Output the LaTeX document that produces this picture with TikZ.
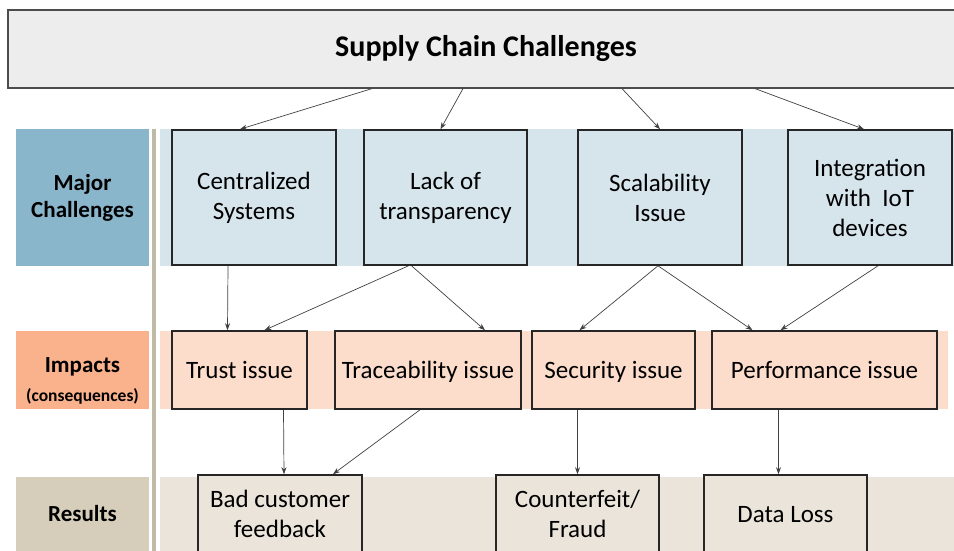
\documentclass[tikz,border=0pt]{standalone}
\usepackage{fontspec}
\setmainfont{Carlito}
\usetikzlibrary{positioning, arrows.meta}
\definecolor{titlegray}{RGB}{237,237,237}
\definecolor{majordark}{RGB}{138,182,204}
\definecolor{majorlight}{RGB}{214,228,236}
\definecolor{impactdark}{RGB}{250,178,140}
\definecolor{impactlight}{RGB}{252,221,204}
\definecolor{resultdark}{RGB}{214,205,186}
\definecolor{resultlight}{RGB}{234,228,218}
\definecolor{rulegray}{RGB}{190,186,166}

\begin{document}
\begin{tikzpicture}[x=1pt, y=-1pt,
  box/.style={draw=black!85, line width=1.6pt, inner sep=0pt, align=center,
    font=\fontsize{25}{30}\selectfont},
  onebox/.style={box, text height=20pt, text depth=3pt},
  lbl/.style={inner sep=0pt, align=center, font=\fontsize{23}{27}\selectfont\bfseries},
  arr/.style={draw=black!75, line width=0.7pt, -{Stealth[length=7pt,width=5pt]}}]
\useasboundingbox (0,0) rectangle (954,551);
\clip (0,0) rectangle (954,551);

% bands
\fill[majorlight] (160,129) rectangle (954,266);
\fill[impactlight] (160,331) rectangle (948,409);
\fill[resultlight] (160,477) rectangle (954,560);
\fill[rulegray] (152,129) rectangle (156,560);
\fill[impactdark] (16,331) rectangle (149,409);

% row labels
\node[lbl, fill=majordark, minimum width=133pt, minimum height=137pt] (major) at (82.5,197.5) {Major\\Challenges};
\node[lbl] (impacts) at (82.5,381)
  {Impacts\\[2pt]{\fontsize{17.5}{20}\selectfont(consequences)}};
\node[lbl, fill=resultdark, minimum width=133pt, minimum height=74pt] (results) at (82.5,514) {Results};

% title
\node[draw=black!70, line width=1.2pt, fill=titlegray, minimum width=956pt, minimum height=78pt,
  font=\fontsize{30}{36}\selectfont\bfseries] (supply) at (486,49) {Supply Chain Challenges};

% major challenges
\node[box, fill=majorlight, minimum width=164pt, minimum height=135pt] (central) at (254,197.5) {Centralized\\Systems};
\node[box, fill=majorlight, minimum width=163pt, minimum height=135pt] (lack) at (445.5,197.5) {Lack of\\transparency};
\node[box, fill=majorlight, minimum width=164pt, minimum height=135pt] (scal) at (660,197.5) {Scalability\\Issue};
\node[box, fill=majorlight, minimum width=164pt, minimum height=135pt] (iot) at (870,197.5) {Integration\\with~ IoT\\devices};

% impacts
\node[onebox, fill=impactlight, minimum width=135pt, minimum height=78pt] (trust) at (239.5,370) {Trust issue};
\node[onebox, fill=impactlight, minimum width=186pt, minimum height=78pt] (trace) at (428,370) {Traceability issue};
\node[onebox, fill=impactlight, minimum width=163pt, minimum height=78pt] (secur) at (613.5,370) {Security issue};
\node[onebox, fill=impactlight, minimum width=225pt, minimum height=78pt] (perf) at (824.5,370) {Performance issue};

% results
\node[box, fill=resultlight, minimum width=164pt, minimum height=78pt] (bad) at (280,514) {Bad customer\\feedback};
\node[box, fill=resultlight, minimum width=163pt, minimum height=78pt] (fraud) at (577.5,514) {Counterfeit/\\Fraud};
\node[onebox, fill=resultlight, minimum width=163pt, minimum height=78pt] (loss) at (785.5,514) {Data Loss};

% arrows: title -> challenges
\draw[arr] ([xshift=-114pt]supply.south) -- ([xshift=-14pt]central.north);
\draw[arr] ([xshift=-23pt]supply.south) -- ([xshift=-5pt]lack.north);
\draw[arr] ([xshift=136pt]supply.south) -- (scal.north);
\draw[arr] ([xshift=269pt]supply.south) -- ([xshift=-6pt]iot.north);

% challenges -> impacts
\draw[arr] ([xshift=-26pt]central.south) -- ([xshift=-12pt]trust.north);
\draw[arr] ([xshift=-37pt]lack.south) -- ([xshift=25pt]trust.north);
\draw[arr] ([xshift=-34pt]lack.south) -- ([xshift=57pt]trace.north);
\draw[arr] ([xshift=-2pt]scal.south) -- ([xshift=-34pt]secur.north);
\draw[arr] ([xshift=-2pt]scal.south) -- ([xshift=-72pt]perf.north);
\draw[arr] ([xshift=8pt]iot.south) -- ([xshift=-44pt]perf.north);

% impacts -> results
\draw[arr] ([xshift=44pt]trust.south) -- ([xshift=4pt]bad.north);
\draw[arr] ([xshift=-8pt]trace.south) -- ([xshift=53pt]bad.north);
\draw[arr] ([xshift=-36pt]secur.south) -- (fraud.north);
\draw[arr] ([xshift=-46pt]perf.south) -- ([xshift=-7pt]loss.north);
\end{tikzpicture}
\end{document}
